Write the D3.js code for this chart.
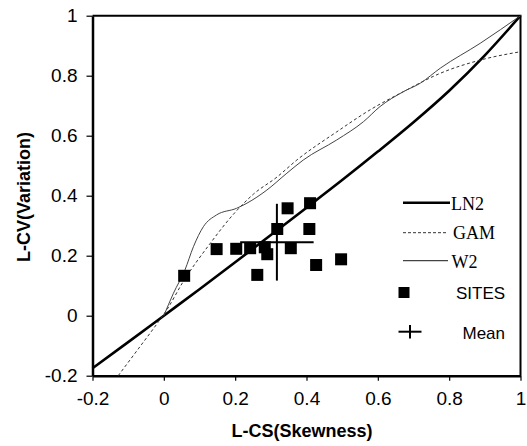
<!DOCTYPE html>
<html>
<head>
<meta charset="utf-8">
<script src="https://cdn.jsdelivr.net/npm/d3@7"></script>
<style>
  body { margin: 0; background: #fff; }
  svg { display: block; }
  .tick text { font-family: "Liberation Sans", Arial, sans-serif; font-size: 19px; fill: #000; }
</style>
</head>
<body>
<svg id="chart" width="527" height="446"></svg>
<script>
// ---------- data ----------
const ln2 = [[-0.2, -0.175], [-0.1, -0.088], [0, 0], [0.1, 0.088], [0.2, 0.178], [0.3, 0.269],
  [0.4, 0.36], [0.5, 0.452], [0.6, 0.547], [0.7, 0.645], [0.8, 0.75], [0.9, 0.868], [1, 1]];
const gam = [[-0.128, -0.2], [-0.07, -0.108], [-0.015, -0.02], [0.008, 0.019], [0.055, 0.115],
  [0.13, 0.241], [0.195, 0.338], [0.251, 0.405], [0.317, 0.462], [0.373, 0.519], [0.485, 0.613],
  [0.578, 0.686], [0.672, 0.747], [0.775, 0.808], [0.887, 0.852], [1, 0.88]];
const w2 = [[0, 0], [0.027, 0.075], [0.059, 0.152], [0.083, 0.23], [0.111, 0.297], [0.148, 0.336],
  [0.204, 0.358], [0.233, 0.375], [0.289, 0.419], [0.345, 0.475], [0.391, 0.519], [0.485, 0.586],
  [0.56, 0.647], [0.606, 0.697], [0.672, 0.747], [0.719, 0.775], [0.775, 0.825], [0.887, 0.908], [1, 1]];
const sites = [[0.057, 0.133], [0.148, 0.222], [0.203, 0.223], [0.242, 0.225], [0.283, 0.228],
  [0.29, 0.205], [0.262, 0.136], [0.318, 0.289], [0.347, 0.358], [0.41, 0.375], [0.408, 0.289],
  [0.356, 0.225], [0.427, 0.169], [0.497, 0.188]];
const mean = { cs: 0.317, cv: 0.245, sdCs: 0.103, sdCv: 0.128 };
const ticks = [-0.2, 0, 0.2, 0.4, 0.6, 0.8, 1];

// ---------- scales ----------
const svg = d3.select("#chart");
const x = d3.scaleLinear().domain([-0.2, 1]).range([92.5, 520.5]);
const y = d3.scaleLinear().domain([-0.2, 1]).range([375.7, 15.7]);
const fmt = d => d === 0 ? "0" : d === 1 ? "1" : String(d);

// frame (top, right)
svg.append("path")
  .attr("d", `M${x(-0.2)},${y(1)}H${x(1)}V${y(-0.2)}`)
  .attr("fill", "none").attr("stroke", "#000").attr("stroke-width", 2);

// axes
const gx = svg.append("g")
  .attr("transform", `translate(0,${y(-0.2)})`)
  .call(d3.axisBottom(x).tickValues(ticks).tickFormat(fmt).tickSize(5).tickPadding(11).tickSizeOuter(0));
const gy = svg.append("g")
  .attr("transform", `translate(${x(-0.2)},0)`)
  .call(d3.axisLeft(y).tickValues(ticks).tickFormat(fmt).tickSize(6).tickPadding(9).tickSizeOuter(0));
[gx, gy].forEach(g => {
  g.select(".domain").attr("stroke-width", 2.5);
  g.selectAll(".tick line").attr("stroke-width", 1.2);
});

// curves
const line = d3.line().x(d => x(d[0])).y(d => y(d[1])).curve(d3.curveMonotoneX);
svg.append("path").datum(ln2).attr("d", line)
  .attr("fill", "none").attr("stroke", "#000").attr("stroke-width", 2.6);
svg.append("path").datum(gam).attr("d", line)
  .attr("fill", "none").attr("stroke", "#333").attr("stroke-width", 1).attr("stroke-dasharray", "3,2.5");
svg.append("path").datum(w2).attr("d", line)
  .attr("fill", "none").attr("stroke", "#444").attr("stroke-width", 1);

// sites
const sq = 12;
svg.selectAll("rect.site").data(sites).enter().append("rect")
  .attr("class", "site")
  .attr("x", d => x(d[0]) - sq / 2).attr("y", d => y(d[1]) - sq / 2)
  .attr("width", sq).attr("height", sq).attr("fill", "#000");

// mean cross
svg.append("line")
  .attr("x1", x(mean.cs - mean.sdCs)).attr("x2", x(mean.cs + mean.sdCs))
  .attr("y1", y(mean.cv)).attr("y2", y(mean.cv))
  .attr("stroke", "#000").attr("stroke-width", 2);
svg.append("line")
  .attr("x1", x(mean.cs)).attr("x2", x(mean.cs))
  .attr("y1", y(mean.cv - mean.sdCv)).attr("y2", y(mean.cv + mean.sdCv))
  .attr("stroke", "#000").attr("stroke-width", 2);

// axis titles
svg.append("text")
  .attr("x", 302).attr("y", 437)
  .attr("text-anchor", "middle")
  .style("font-family", "Liberation Sans, Arial, sans-serif")
  .style("font-weight", "bold").style("font-size", "18px")
  .text("L-CS(Skewness)");
svg.append("text")
  .attr("transform", "translate(30,197) rotate(-90)")
  .attr("text-anchor", "middle")
  .style("font-family", "Liberation Sans, Arial, sans-serif")
  .style("font-weight", "bold").style("font-size", "18px")
  .text("L-CV(Variation)");

// legend
const leg = svg.append("g");
const serif = "Liberation Serif, Times New Roman, serif";
const sans = "Liberation Sans, Arial, sans-serif";
const lines = [
  { name: "LN2", y: 202.7, base: 210, w: 2.6, dash: null, color: "#000", x2: 450, tx: 451 },
  { name: "GAM", y: 232.7, base: 239.3, w: 1, dash: "3,2", color: "#333", x2: 447, tx: 453 },
  { name: "W2", y: 260.7, base: 268.3, w: 1.3, dash: null, color: "#444", x2: 448, tx: 451.5 }
];
lines.forEach(l => {
  leg.append("line").attr("x1", 403).attr("x2", l.x2).attr("y1", l.y).attr("y2", l.y)
    .attr("stroke", l.color).attr("stroke-width", l.w).attr("stroke-dasharray", l.dash);
  leg.append("text").attr("x", l.tx).attr("y", l.base)
    .style("font-family", serif).style("font-size", "18px").text(l.name);
});
leg.append("rect").attr("x", 398.5).attr("y", 287).attr("width", 11).attr("height", 11).attr("fill", "#000");
leg.append("text").attr("x", 456).attr("y", 298.5)
  .style("font-family", sans).style("font-size", "17px").text("SITES");
leg.append("line").attr("x1", 398.5).attr("x2", 421.5).attr("y1", 331.7).attr("y2", 331.7)
  .attr("stroke", "#000").attr("stroke-width", 2);
leg.append("line").attr("x1", 410).attr("x2", 410).attr("y1", 325).attr("y2", 338.5)
  .attr("stroke", "#000").attr("stroke-width", 2);
leg.append("text").attr("x", 462.5).attr("y", 339)
  .style("font-family", sans).style("font-size", "17px").text("Mean");
</script>
</body>
</html>
